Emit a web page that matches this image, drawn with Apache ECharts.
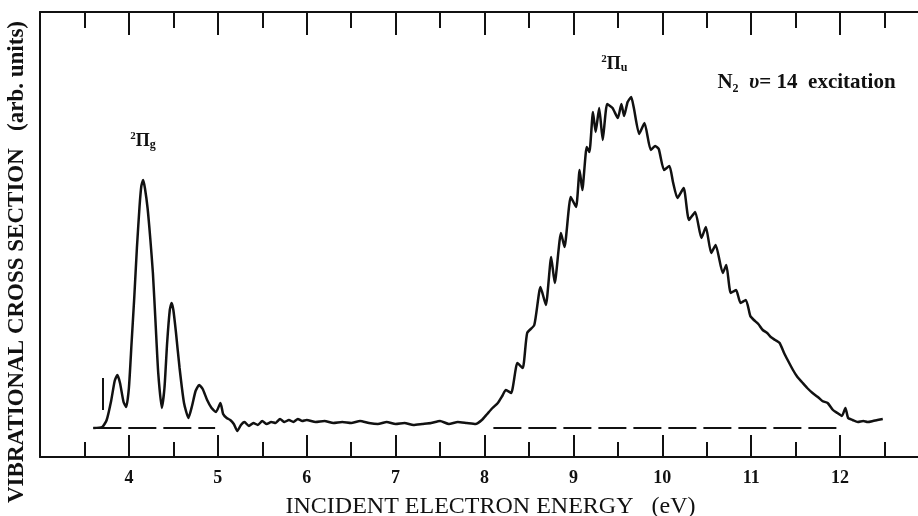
<!DOCTYPE html>
<html>
<head>
<meta charset="utf-8">
<script src="https://cdn.jsdelivr.net/npm/echarts@6/dist/echarts.min.js"></script>
<style>
  html, body { margin: 0; padding: 0; background: #fff; }
  #chart { width: 918px; height: 516px; }
</style>
</head>
<body>
<div id="chart"></div>
<script>
// incident electron energy (eV)
const energy = [
    3.60, 3.70, 3.75, 3.80, 3.84, 3.87, 3.90, 3.94, 3.97, 4.00,
    4.03, 4.06, 4.09, 4.12, 4.14, 4.16, 4.18, 4.21, 4.24, 4.27,
    4.30, 4.33, 4.37, 4.40, 4.43, 4.46, 4.48, 4.50, 4.53, 4.57,
    4.62, 4.67, 4.71, 4.75, 4.79, 4.83, 4.88, 4.93, 4.98, 5.03,
    5.06, 5.10, 5.14, 5.18, 5.22, 5.26, 5.30, 5.35, 5.40, 5.45,
    5.50, 5.55, 5.60, 5.65, 5.70, 5.75, 5.80, 5.85, 5.90, 5.95,
    6.00, 6.10, 6.20, 6.30, 6.40, 6.50, 6.60, 6.70, 6.80, 6.90,
    7.00, 7.10, 7.20, 7.30, 7.40, 7.50, 7.60, 7.70, 7.80, 7.90,
    7.97, 8.03, 8.09, 8.15, 8.20, 8.24, 8.30, 8.37, 8.43, 8.48,
    8.56, 8.63, 8.69, 8.75, 8.79, 8.86, 8.90, 8.97, 9.03, 9.07,
    9.10, 9.15, 9.18, 9.22, 9.25, 9.29, 9.33, 9.38, 9.44, 9.50,
    9.54, 9.57, 9.61, 9.65, 9.68, 9.74, 9.80, 9.87, 9.92, 9.96,
    10.02, 10.08, 10.12, 10.17, 10.24, 10.30, 10.37, 10.44, 10.49, 10.55,
    10.60, 10.68, 10.72, 10.77, 10.83, 10.88, 10.94, 10.99, 11.03, 11.08,
    11.13, 11.18, 11.22, 11.27, 11.32, 11.37, 11.41, 11.47, 11.52, 11.57,
    11.63, 11.69, 11.75, 11.80, 11.86, 11.92, 11.97, 12.02, 12.06, 12.09,
    12.14, 12.20, 12.26, 12.31, 12.37, 12.42, 12.48
];
// vibrational cross section (arb. units)
const crossSection = [
    0, 1, 8, 27, 47, 53, 45, 26, 21, 40,
    85, 130, 180, 222, 242, 248, 240, 220, 190, 155,
    105, 55, 20, 40, 85, 118, 125, 118, 95, 60,
    25, 10, 22, 37, 43, 39, 28, 20, 16, 25,
    14, 10, 8, 4, -3, 3, 6, 2, 5, 3,
    7, 4, 6, 5, 9, 6, 8, 6, 9, 7,
    8, 6, 7, 5, 6, 5, 7, 5, 4, 6,
    4, 5, 3, 4, 5, 7, 4, 6, 5, 4,
    8, 14, 20, 25, 32, 38, 35, 65, 60, 95,
    103, 141, 123, 171, 145, 195, 181, 231, 221, 258,
    238, 281, 276, 316, 296, 320, 288, 324, 320, 310,
    324, 312, 326, 331, 320, 294, 305, 278, 282, 279,
    258, 262, 246, 230, 240, 208, 216, 190, 201, 175,
    183, 155, 163, 135, 138, 125, 128, 112, 108, 104,
    98, 95, 91, 88, 85, 75, 68, 58, 51, 46,
    40, 35, 31, 27, 25, 18, 15, 12, 20, 10,
    8, 6, 7, 6, 7, 8, 9
];
// dashed zero line, drawn in two pieces
const baselineSegments = [[3.60, 4.97], [8.10, 12.02]];
// small vertical scale bar near the start
const scaleBar = { x: 3.71, from: 18, to: 50 };
// labels on the plot
const annotations = [
    { text: '{sup|2}{pi|Π}{sub|g}', coord: [4.16, 287] },
    { text: '{sup|2}{pi|Π}{sub|u}', coord: [9.46, 364] }
];
const titleNote = { text: '{b|N}{sub|2}{b|  }{it|υ}{b|= 14  excitation}', coord: [10.62, 345] };

const xTicks = { min: 3, max: 13, interval: 1 };
const serif = '"Liberation Serif", "DejaVu Serif", serif';

const chart = echarts.init(document.getElementById('chart'));

const richStyle = {
    sup: { fontFamily: serif, fontSize: 11, fontWeight: 'bold', color: '#111', verticalAlign: 'top', lineHeight: 20 },
    pi: { fontFamily: serif, fontSize: 18, fontWeight: 'bold', color: '#111', lineHeight: 20 },
    sub: { fontFamily: serif, fontSize: 12, fontWeight: 'bold', color: '#111', verticalAlign: 'bottom', lineHeight: 20 },
    b: { fontFamily: serif, fontSize: 21, fontWeight: 'bold', color: '#111', lineHeight: 24 },
    it: { fontFamily: serif, fontSize: 21, fontWeight: 'bold', fontStyle: 'italic', color: '#111', lineHeight: 24 }
};

function xAxisBase(position) {
    return {
        type: 'value',
        position: position,
        min: xTicks.min,
        max: xTicks.max,
        interval: xTicks.interval,
        axisLine: { show: true, onZero: false, lineStyle: { color: '#111', width: 2 } },
        axisTick: { show: true, inside: true, length: 22, lineStyle: { color: '#111', width: 2 } },
        minorTick: { show: true, splitNumber: 2, length: 15, lineStyle: { color: '#111', width: 2 } },
        splitLine: { show: false },
        minorSplitLine: { show: false }
    };
}

const option = {
    backgroundColor: '#fff',
    animation: false,
    grid: { left: 40, right: -11, top: 12, bottom: 59, outerBoundsMode: 'none' },
    xAxis: [
        Object.assign(xAxisBase('bottom'), {
            name: 'INCIDENT ELECTRON ENERGY   (eV)',
            nameLocation: 'middle',
            nameGap: 38,
            nameTextStyle: { fontFamily: serif, fontSize: 24, color: '#111', padding: [0, 0, 0, 12] },
            axisLabel: {
                show: true,
                margin: 12,
                fontFamily: serif,
                fontSize: 18,
                fontWeight: 'bold',
                color: '#111',
                showMinLabel: false,
                showMaxLabel: false
            }
        }),
        Object.assign(xAxisBase('top'), {
            axisTick: { show: true, inside: true, length: 23, lineStyle: { color: '#111', width: 2 } },
            minorTick: { show: true, splitNumber: 2, length: 16, lineStyle: { color: '#111', width: 2 } },
            axisLabel: { show: false }
        })
    ],
    yAxis: {
        type: 'value',
        min: -29,
        max: 416,
        axisLine: { show: true, onZero: false, lineStyle: { color: '#111', width: 2 } },
        axisTick: { show: false },
        axisLabel: { show: false },
        splitLine: { show: false }
    },
    graphic: [{
        type: 'text',
        x: 17,
        y: 262,
        rotation: Math.PI / 2,
        style: {
            text: 'VIBRATIONAL CROSS SECTION   (arb. units)',
            font: 'bold 23px ' + serif,
            fill: '#111',
            align: 'center',
            verticalAlign: 'middle'
        }
    }],
    series: [{
        name: 'cross section',
        type: 'line',
        xAxisIndex: 0,
        data: energy.map((e, i) => [e, crossSection[i]]),
        showSymbol: false,
        smooth: 0.18,
        lineStyle: { color: '#111', width: 2.5 },
        markLine: {
            silent: true,
            symbol: 'none',
            label: { show: false },
            lineStyle: { color: '#111', width: 2, type: [28, 7] },
            data: baselineSegments.map(s => [{ coord: [s[0], 0] }, { coord: [s[1], 0] }]).concat([
                [
                    { coord: [scaleBar.x, scaleBar.from], lineStyle: { type: 'solid', width: 2 } },
                    { coord: [scaleBar.x, scaleBar.to] }
                ]
            ])
        },
        markPoint: {
            silent: true,
            symbol: 'circle',
            symbolSize: 0,
            data: annotations.map(a => ({
                coord: a.coord,
                label: { show: true, position: 'inside', formatter: a.text, rich: richStyle }
            })).concat([{
                coord: titleNote.coord,
                label: { show: true, position: 'inside', align: 'left', formatter: titleNote.text, rich: richStyle }
            }])
        }
    }]
};

chart.setOption(option);
</script>
</body>
</html>
